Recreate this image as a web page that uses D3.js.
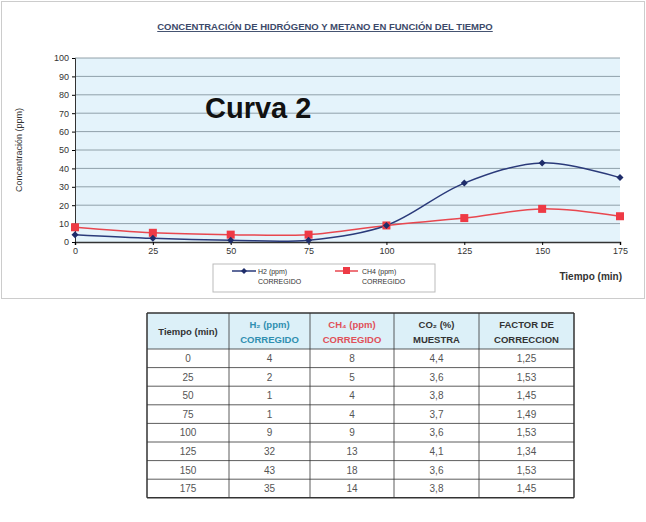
<!DOCTYPE html>
<html><head><meta charset="utf-8">
<script src="https://cdn.jsdelivr.net/npm/d3@7"></script>
<style>body{margin:0;background:#fff}</style>
</head><body>
<svg id="c" width="646" height="522"></svg>
<script>
const tiempo = [0, 25, 50, 75, 100, 125, 150, 175]
const h2 = [4, 2, 1, 1, 9, 32, 43, 35]
const ch4 = [8, 5, 4, 4, 9, 13, 18, 14]
const co2 = ["4,4", "3,6", "3,8", "3,7", "3,6", "4,1", "3,6", "3,8"]
const factor = ["1,25", "1,53", "1,45", "1,49", "1,53", "1,34", "1,53", "1,45"]
const yTicks = d3.range(0, 101, 10)

const svg = d3.select("#c")
const font = "Liberation Sans, Arial, sans-serif"

// chart frame
svg.append("rect").attr("x", 1.5).attr("y", 1.5).attr("width", 643).attr("height", 297)
  .attr("fill", "#fff").attr("stroke", "#ccc")

svg.append("text").attr("x", 325).attr("y", 30).attr("text-anchor", "middle")
  .style("font", "bold 9.5px " + font).attr("fill", "#3c4a6a")
  .attr("text-decoration", "underline")
  .text("CONCENTRACIÓN DE HIDRÓGENO Y METANO EN FUNCIÓN DEL TIEMPO")

const x = d3.scaleLinear().domain([0, 175]).range([75, 620])
const y = d3.scaleLinear().domain([0, 100]).range([242, 58])

svg.append("rect").attr("x", x(0)).attr("y", y(100)).attr("width", x(175) - x(0)).attr("height", y(0) - y(100))
  .attr("fill", "#e4f3fb")

svg.append("g").selectAll("line").data(yTicks.slice(1)).join("line")
  .attr("x1", x(0)).attr("x2", x(175)).attr("y1", d => y(d)).attr("y2", d => y(d))
  .attr("stroke", "#7a8a96").attr("stroke-width", 0.8)

svg.append("g").attr("transform", `translate(${x(0)},0)`)
  .call(d3.axisLeft(y).tickValues(yTicks).tickSize(3))
  .call(g => g.selectAll("text").style("font", "9px " + font).attr("fill", "#333"))
  .call(g => g.select(".domain").attr("stroke", "#333"))
svg.append("g").attr("transform", `translate(0,${y(0)})`)
  .call(d3.axisBottom(x).tickValues(tiempo).tickSize(3))
  .call(g => g.selectAll("text").style("font", "9px " + font).attr("fill", "#333"))
  .call(g => g.select(".domain").attr("stroke", "#333").attr("stroke-width", 1.5))

svg.append("text").attr("transform", `translate(22,150) rotate(-90)`).attr("text-anchor", "middle")
  .style("font", "9px " + font).attr("fill", "#333").text("Concentración (ppm)")
svg.append("text").attr("x", 622).attr("y", 280).attr("text-anchor", "end")
  .style("font", "bold 10px " + font).attr("fill", "#333").text("Tiempo (min)")

svg.append("text").attr("x", 205).attr("y", 118)
  .style("font", "bold 29px " + font).attr("fill", "#111").text("Curva 2")

const line = d3.line().x((d, i) => x(tiempo[i])).y(d => y(d)).curve(d3.curveCatmullRom)
svg.append("path").attr("d", line(ch4)).attr("fill", "none").attr("stroke", "#e8474f").attr("stroke-width", 1.5)
svg.append("path").attr("d", line(h2)).attr("fill", "none").attr("stroke", "#2a3a7a").attr("stroke-width", 1.5)
svg.selectAll(".m1").data(ch4).join("rect")
  .attr("x", (d, i) => x(tiempo[i]) - 4).attr("y", d => y(d) - 4).attr("width", 8).attr("height", 8)
  .attr("fill", "#ee3a45")
svg.selectAll(".m2").data(h2).join("path")
  .attr("d", (d, i) => `M${x(tiempo[i])},${y(d) - 3.5}l3.5,3.5l-3.5,3.5l-3.5,-3.5z`)
  .attr("fill", "#1f2d6a")

// legend
const lg = svg.append("g")
lg.append("rect").attr("x", 213).attr("y", 264).attr("width", 222).attr("height", 28)
  .attr("fill", "#fff").attr("stroke", "#bbb")
lg.append("line").attr("x1", 232).attr("x2", 256).attr("y1", 271).attr("y2", 271).attr("stroke", "#2a3a7a").attr("stroke-width", 1.5)
lg.append("path").attr("d", "M244,268l3,3l-3,3l-3,-3z").attr("fill", "#1f2d6a")
lg.append("line").attr("x1", 335).attr("x2", 358).attr("y1", 271).attr("y2", 271).attr("stroke", "#e8474f").attr("stroke-width", 1.5)
lg.append("rect").attr("x", 343).attr("y", 267).attr("width", 7).attr("height", 7).attr("fill", "#ee3a45")
const lt = [["H2 (ppm)", 258], ["CH4 (ppm)", 362]]
lt.forEach(([t, lx]) => {
  lg.append("text").attr("x", lx).attr("y", 274).style("font", "7px " + font).attr("fill", "#333").text(t)
  lg.append("text").attr("x", lx).attr("y", 284).style("font", "7px " + font).attr("fill", "#333").text("CORREGIDO")
})

// table
const cols = [147, 229, 310, 394, 479, 574]
const tTop = 313, headH = 36, rowH = 18.6
const t = svg.append("g")
t.append("rect").attr("x", cols[0]).attr("y", tTop).attr("width", cols[5] - cols[0]).attr("height", headH).attr("fill", "#dcf0f8")
const heads = [
  [["Tiempo (min)"], "#333"],
  [["H₂ (ppm)", "CORREGIDO"], "#2f8fb0"],
  [["CH₄ (ppm)", "CORREGIDO"], "#e0505a"],
  [["CO₂ (%)", "MUESTRA"], "#333"],
  [["FACTOR DE", "CORRECCION"], "#333"]
]
heads.forEach(([lines, col], i) => {
  const cx = (cols[i] + cols[i + 1]) / 2
  lines.forEach((l, j) => {
    t.append("text").attr("x", cx).attr("text-anchor", "middle")
      .attr("y", lines.length === 1 ? tTop + 22 : tTop + 15 + j * 15)
      .style("font", "bold 9.5px " + font).attr("fill", col).text(l)
  })
})
const rows = tiempo.map((d, i) => [d, h2[i], ch4[i], co2[i], factor[i]])
rows.forEach((r, ri) => {
  r.forEach((v, ci) => {
    t.append("text").attr("x", (cols[ci] + cols[ci + 1]) / 2).attr("y", tTop + headH + ri * rowH + 13)
      .attr("text-anchor", "middle").style("font", "10px " + font).attr("fill", "#555").text(v)
  })
})
const bottom = tTop + headH + rows.length * rowH
d3.range(rows.length + 2).forEach(k => {
  const yy = k === 0 ? tTop : tTop + headH + (k - 1) * rowH
  t.append("line").attr("x1", cols[0]).attr("x2", cols[5]).attr("y1", yy).attr("y2", yy)
    .attr("stroke", "#333").attr("stroke-width", k === 0 || k === rows.length + 1 ? 1.5 : 0.8)
})
cols.forEach((cx, i) => t.append("line").attr("x1", cx).attr("x2", cx).attr("y1", tTop).attr("y2", bottom)
  .attr("stroke", "#333").attr("stroke-width", i === 0 || i === 5 ? 1.5 : 0.8))
</script>
</body></html>
